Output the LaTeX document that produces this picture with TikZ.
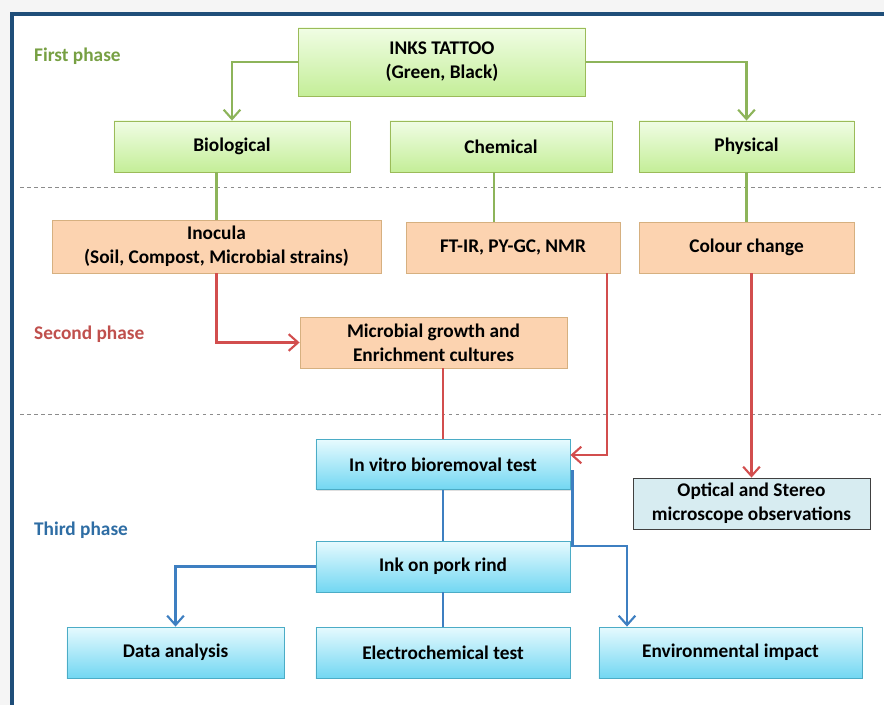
\documentclass[tikz,border=0pt]{standalone}
\usepackage{fontspec}
\setmainfont{Carlito}
\usetikzlibrary{arrows.meta,shadows}

\definecolor{phasegreen}{HTML}{77A043}
\definecolor{phasered}{HTML}{C0504D}
\definecolor{phaseblue}{HTML}{2E6DA4}
\definecolor{linegreen}{HTML}{8DB45A}
\definecolor{linered}{HTML}{D24E4E}
\definecolor{lineblue}{HTML}{3E7FC1}
\definecolor{framecol}{HTML}{1F4E79}
\definecolor{greenedge}{HTML}{9BBB59}
\definecolor{greentop}{HTML}{F0FDE4}
\definecolor{greenbottom}{HTML}{C4EE98}
\definecolor{orangeedge}{HTML}{D6B080}
\definecolor{orangefill}{HTML}{FCD3B0}
\definecolor{blueedge}{HTML}{4BACC6}
\definecolor{bluetop}{HTML}{E6FAFE}
\definecolor{bluebottom}{HTML}{72D7F2}
\definecolor{greyfill}{HTML}{D7ECF1}

\tikzset{
  box/.style={draw, rectangle, align=center, line width=0.7pt,
    font=\fontsize{16.5}{20.5}\selectfont\bfseries, minimum height=1.53cm,
    drop shadow={opacity=0.25, shadow xshift=0.7pt, shadow yshift=-0.9pt}},
  greenbox/.style={box, draw=greenedge, top color=greentop, bottom color=greenbottom},
  orangebox/.style={box, draw=orangeedge, fill=orangefill},
  bluebox/.style={box, draw=blueedge, top color=bluetop, bottom color=bluebottom},
  greybox/.style={box, draw=black!75, fill=greyfill},
  phase/.style={anchor=west, font=\fontsize{16.5}{20}\selectfont\bfseries},
  greenline/.style={draw=linegreen, line width=2pt},
  redline/.style={draw=linered, line width=2pt},
  blueline/.style={draw=lineblue, line width=2pt},
  tip/.style={-{Straight Barb[length=2.8mm, width=5mm, line width=1.8pt]}},
  sep/.style={draw=black!45, dashed, line width=0.5pt}
}

\begin{document}
\begin{tikzpicture}[x=0.03cm, y=-0.03cm]
\useasboundingbox[fill=black!4] (0,0) rectangle (884,705);
\fill[white] (12,14) rectangle (884,705);
\draw[framecol, line width=3pt] (12,705) -- (12,14) -- (884,14);
\draw[sep] (20,187) -- (884,187);
\draw[sep] (20,414) -- (884,414);

\node[phase, text=phasegreen] (first) at (30,56) {First phase};
\node[phase, text=phasered] (second) at (30,334) {Second phase};
\node[phase, text=phaseblue] (third) at (30,530) {Third phase};

\node[greenbox, minimum width=8.61cm, minimum height=2.04cm] (inks) at (442,62) {INKS TATTOO\\(Green, Black)};
\node[greenbox, minimum width=7.08cm] (bio) at (232,146.5) {Biological};
\node[greenbox, minimum width=6.66cm] (chem) at (501,146.5) {Chemical};
\node[greenbox, minimum width=6.45cm] (phys) at (746.5,146.5) {Physical};

\node[orangebox, minimum width=9.87cm, minimum height=1.59cm] (inoc) at (216.5,246.5) {Inocula\\(Soil, Compost, Microbial strains)};
\node[orangebox, minimum width=6.42cm] (ftir) at (513,247.5) {FT-IR, PY-GC, NMR};
\node[orangebox, minimum width=6.45cm] (colour) at (746.5,247.5) {Colour change};
\node[orangebox, minimum width=8.01cm] (micro) at (433.5,342.5) {Microbial growth and\\Enrichment cultures};

\node[bluebox, minimum width=7.62cm, minimum height=1.5cm] (vitro) at (443,464.5) {In vitro bioremoval test};
\node[greybox, minimum width=7.11cm] (optical) at (751.5,503.5) {Optical and Stereo\\microscope observations};
\node[bluebox, minimum width=7.62cm] (pork) at (443,566.5) {Ink on pork rind};
\node[bluebox, minimum width=6.51cm] (data) at (175.5,652.5) {Data analysis};
\node[bluebox, minimum width=7.62cm] (electro) at (443,652.5) {Electrochemical test};
\node[bluebox, minimum width=7.89cm] (env) at (730.5,652.5) {Environmental impact};
\coordinate (envbend) at (627,546);

\draw[greenline, tip] (inks.west) -| (bio.north);
\draw[greenline, tip] (inks.east) -| (phys.north);
\draw[greenline] (bio.south -| inoc.north) -- (inoc.north);
\draw[greenline] ([xshift=-0.21cm]chem.south) -- ([xshift=-0.21cm]chem.south |- ftir.north);
\draw[greenline] (phys.south) -- (colour.north);

\draw[redline, tip] (inoc.south) |- (micro.west);
\draw[redline, tip] ([xshift=2.82cm]ftir.south) |- ([yshift=0.285cm]vitro.east);
\draw[redline, tip] (colour.south -| optical.north) -- (optical.north);
\draw[redline] (vitro.north |- micro.south) -- (vitro.north);

\draw[blueline] (vitro.south) -- (pork.north);
\draw[blueline, tip] ([xshift=0.06cm, yshift=-0.17cm]vitro.east) |- (envbend) -- (envbend |- env.north);
\draw[blueline, tip] (pork.west) -| (data.north);
\draw[blueline] (pork.south) -- (electro.north);
\end{tikzpicture}
\end{document}
